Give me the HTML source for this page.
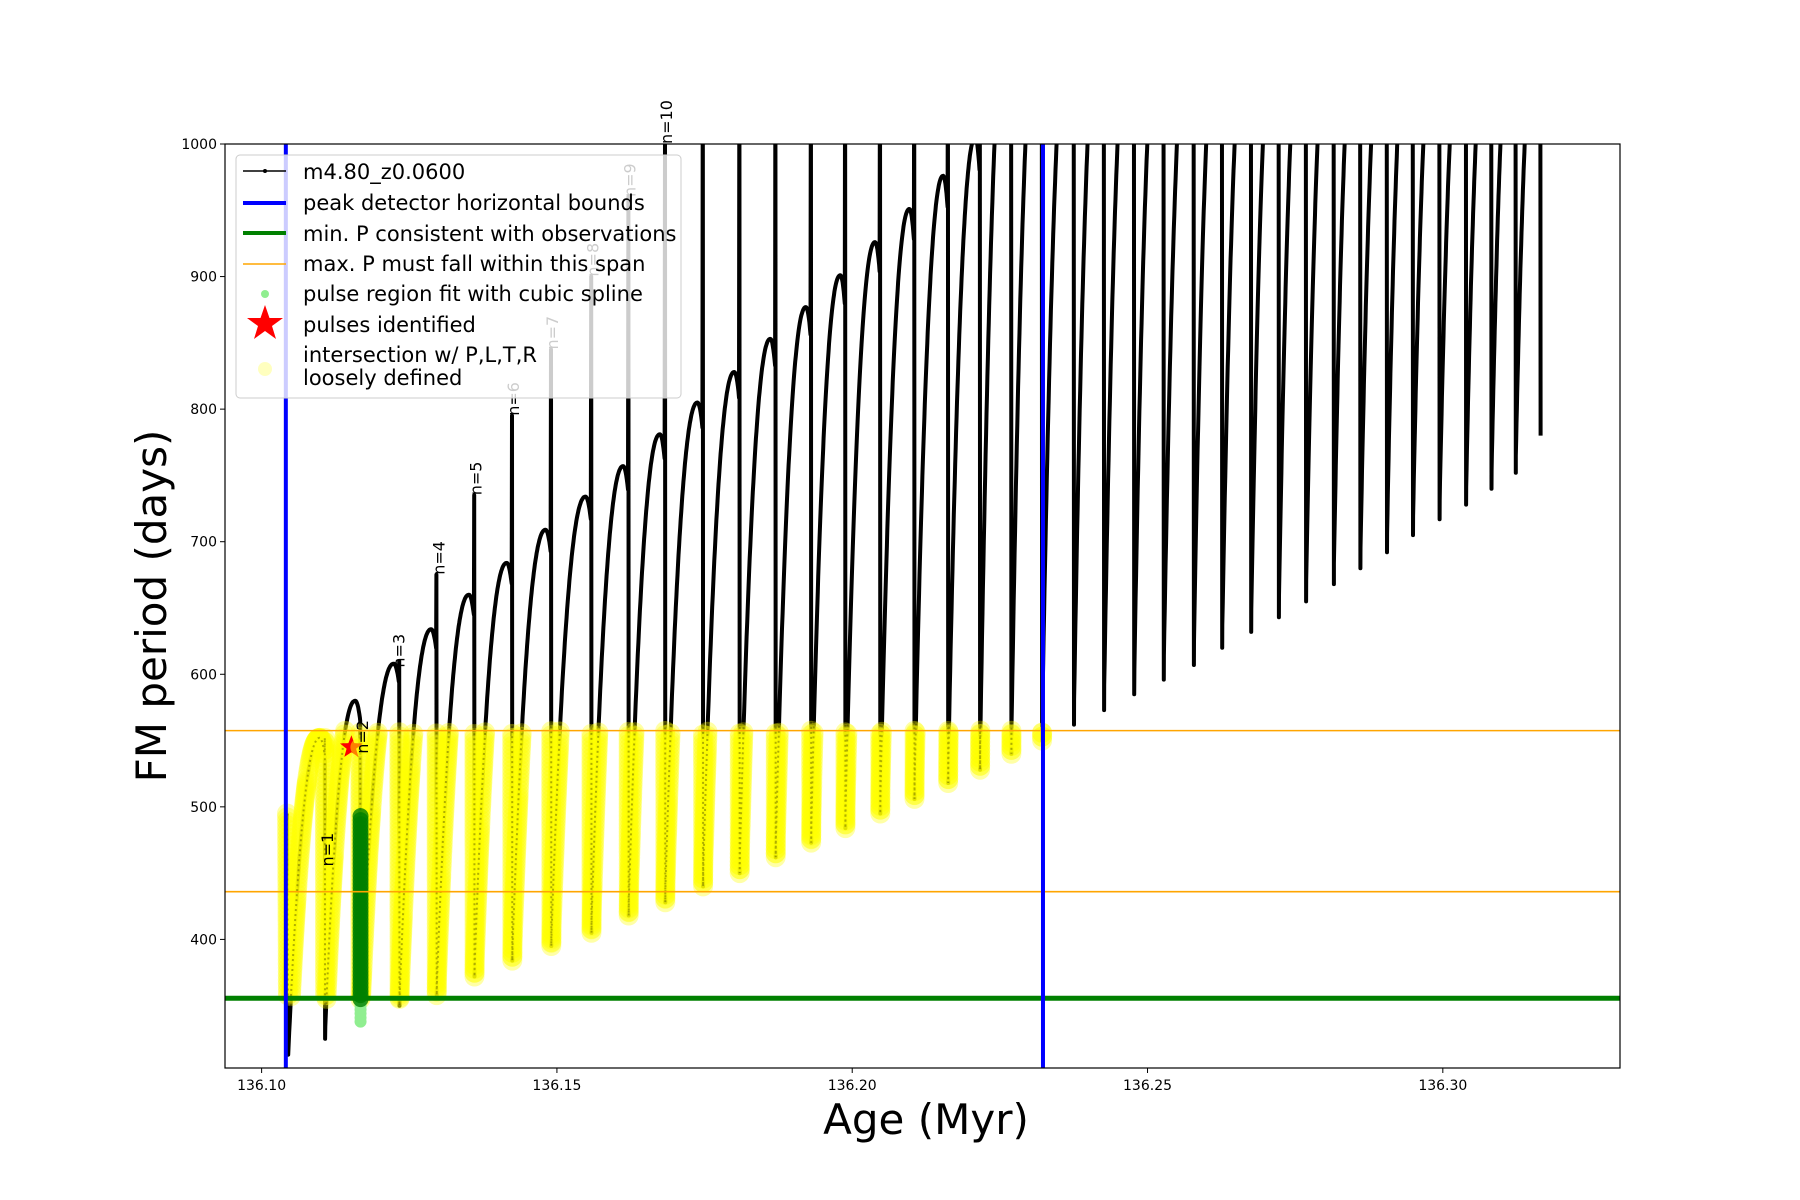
<!DOCTYPE html>
<html><head><meta charset="utf-8"><style>
html,body{margin:0;padding:0;background:#fff;}
svg{display:block;font-family:"DejaVu Sans","Liberation Sans",sans-serif;}
</style></head><body>
<svg id="chart" width="1800" height="1200" viewBox="0 0 1800 1200" xmlns="http://www.w3.org/2000/svg">
<rect x="0" y="0" width="1800" height="1200" fill="#fff"/>
<defs><clipPath id="plotclip"><rect x="225" y="144" width="1395" height="924"/></clipPath></defs>
<g id="plot" clip-path="url(#plotclip)"></g>
<g id="overlay"></g>
</svg>
<script>
// ---- data ----
const dipAges = [136.1045,136.1107,136.1167,136.1233,136.1296,136.1360,136.1424,136.1490,136.1558,136.1621,136.1683,136.1747,136.1809,136.1870,136.1930,136.1988,136.2047,136.2105,136.2162,136.2216,136.2269,136.2321,136.2375,136.2426,136.2477,136.2527,136.2578,136.2626,136.2675,136.2722,136.2768,136.2815,136.2860,136.2905,136.2949,136.2994,136.3039,136.3082,136.3123,136.3165];
const dipMins = [313,325,340,350,358,372,384,395,405,418,428,440,450,462,473,484,495,506,518,528,540,550,562,573,585,596,607,620,632,643,655,668,680,692,705,717,728,740,752,780];
const humpMax = [495,552,580,608,634,660,684,709,734,757,781,805,828,853,877,901,926,951,976,1005,1100,1100,1100,1100,1100,1100,1100,1100,1100,1100,1100,1100,1100,1100,1100,1100,1100,1100,1100,1100];
const spikeTop = [495,552,565,610,675,735,795,845,900,960,1005,1100,1100,1100,1100,1100,1100,1100,1100,1100,1100,1100,1100,1100,1100,1100,1100,1100,1100,1100,1100,1100,1100,1100,1100,1100,1100,1100,1100,1100];
const nLabels = ["n=1","n=2","n=3","n=4","n=5","n=6","n=7","n=8","n=9","n=10"];
const nLabelAges = [136.1121,136.1180,136.1242,136.1310,136.1372,136.1436,136.1502,136.1570,136.1633,136.1695];
const nLabelVals = [455,540,605,675,735,795,845,900,960,1000];
const xTicks = [136.10,136.15,136.20,136.25,136.30];
const yTicks = [400,500,600,700,800,900,1000];
const boundAges = [136.1041,136.2323];
const minP = 355.6;
const maxSpan = [436,557.5];
const greenPulseAge = 136.1167;
const greenRange = [355,495];
const lightGreenRange = [338,355];
const starPoint = [136.1152,545];
const yellowCutoffAge = 136.2325;

// ---- axes ----
const X0=225,X1=1620,Y0=144,Y1=1068;
const xmin=136.0938,xmax=136.3300,ymin=303.0,ymax=1000;
const sx=a=>X0+(a-xmin)/(xmax-xmin)*(X1-X0);
const sy=v=>Y1-(v-ymin)/(ymax-ymin)*(Y1-Y0);
const NS="http://www.w3.org/2000/svg";
const svg=document.getElementById('chart');
const plot=document.getElementById('plot');
function mk(tag,attrs,parent){const e=document.createElementNS(NS,tag);for(const k in attrs)e.setAttribute(k,attrs[k]);(parent||svg).appendChild(e);return e;}

const pts=[];
pts.push([dipAges[0]-0.0002,spikeTop[0]]);
pts.push([dipAges[0],dipMins[0]]);
for(let i=0;i<dipAges.length-1;i++){
  const a0=dipAges[i],a1=dipAges[i+1],m=dipMins[i],h=humpMax[i+1];
  const L=a1-a0, N=60;
  for(let k=1;k<=N;k++){
    const s=k/N;const t=a0+s*0.86*L;
    const v=m+(h-m)*(1-Math.pow(1-s,2.2));
    pts.push([t,v]);
  }
  for(let k=1;k<=8;k++){
    const u=k/8;const t=a0+(0.86+0.13*u)*L;
    pts.push([t,h-(h-m)*0.05*u*u]);
  }
  pts.push([a1,spikeTop[i+1]]);
  pts.push([a1+0.00005,dipMins[i+1]]);
}
let d='';pts.forEach((p,i)=>{d+=(i?'L':'M')+sx(p[0]).toFixed(1)+','+sy(p[1]).toFixed(1);});
const line=mk('path',{d:d,fill:'none',stroke:'#000','stroke-width':4,'stroke-linejoin':'round'},plot);



const yg=mk('g',{fill:'#ffff00','fill-opacity':0.35,stroke:'none'},plot);


for(let i=1;i<pts.length;i++){
  const [a0,v0]=pts[i-1],[a1,v1]=pts[i];
  if(a1>yellowCutoffAge)break;
  const n=Math.max(1,Math.ceil(Math.hypot(sx(a1)-sx(a0),sy(v1)-sy(v0))/4));
  for(let k=0;k<n;k++){
    const t=a0+(a1-a0)*k/n,v=v0+(v1-v0)*k/n;
    if(v>=355&&v<=maxSpan[1]){mk('circle',{cx:sx(t).toFixed(1),cy:sy(v).toFixed(1),r:10},yg);}
  }
}
mk('path',{d:d,fill:'none',stroke:'#000','stroke-width':2,'stroke-opacity':0.3,'stroke-dasharray':'2 3'},plot);

const gg=mk('g',{},plot);


for(let v=lightGreenRange[0];v<=lightGreenRange[1];v+=3){mk('circle',{cx:sx(greenPulseAge+0.00005),cy:sy(v),r:6,fill:'#90ee90'},gg);}
for(let v=greenRange[0];v<=greenRange[1];v+=3){mk('circle',{cx:sx(greenPulseAge+0.00005),cy:sy(v),r:8,fill:'#008000','fill-opacity':0.8},gg);}

function starPath(cx,cy,R,r){let p='';for(let k=0;k<10;k++){const ang=-Math.PI/2+k*Math.PI/5;const rr=k%2?r:R;p+=(k?'L':'M')+(cx+rr*Math.cos(ang)).toFixed(1)+','+(cy+rr*Math.sin(ang)).toFixed(1);}return p+'Z';}
const st=mk('path',{d:starPath(sx(starPoint[0]),sy(starPoint[1]),12,5),fill:'#ff0000'},plot);


// yellow over star partially
mk('circle',{cx:sx(starPoint[0])+8,cy:sy(starPoint[1]),r:9,fill:'#ffff00','fill-opacity':0.5},plot);

maxSpan.forEach(v=>{const l=mk('line',{x1:X0,x2:X1,y1:sy(v),y2:sy(v),stroke:'#ffa500','stroke-width':1.6},plot);

});
const gl=mk('line',{x1:X0,x2:X1,y1:sy(minP),y2:sy(minP),stroke:'#008000','stroke-width':5},plot);


boundAges.forEach(a=>{const l=mk('line',{x1:sx(a),x2:sx(a),y1:Y0,y2:Y1,stroke:'#0000ff','stroke-width':4},plot);

});

nLabels.forEach((t,i)=>{const x=sx(nLabelAges[i]),y=sy(nLabelVals[i]);
const e=mk('text',{x:0,y:0,transform:`translate(${x.toFixed(1)},${y.toFixed(1)}) rotate(-90)`,'font-size':16,fill:'#000'});
e.textContent=t;

});

const fr=mk('rect',{x:X0,y:Y0,width:X1-X0,height:Y1-Y0,fill:'none',stroke:'#000','stroke-width':1.2});


xTicks.forEach(v=>{const x=sx(v);mk('line',{x1:x,x2:x,y1:Y1,y2:Y1+5,stroke:'#000'});
const e=mk('text',{x:x,y:Y1+22,'font-size':14,'text-anchor':'middle'});e.textContent=v.toFixed(2);

});
yTicks.forEach(v=>{const y=sy(v);mk('line',{x1:X0-5,x2:X0,y1:y,y2:y,stroke:'#000'});
const e=mk('text',{x:X0-8,y:y+5,'font-size':14,'text-anchor':'end'});e.textContent=v;

});
</script>
<svg style="position:absolute;left:0;top:0" width="1800" height="1200" xmlns="http://www.w3.org/2000/svg">
<text x="926" y="1134" font-size="42" text-anchor="middle" font-family="DejaVu Sans, Liberation Sans, sans-serif">Age (Myr)</text>
<text transform="translate(166,606) rotate(-90)" font-size="42" text-anchor="middle" font-family="DejaVu Sans, Liberation Sans, sans-serif">FM period (days)</text>
<g font-family="DejaVu Sans, Liberation Sans, sans-serif" font-size="21">
<rect x="236" y="155" width="445" height="243" rx="4" fill="#fff" fill-opacity="0.8" stroke="#ccc"/>
<g><line x1="243" x2="286" y1="171" y2="171" stroke="#000" stroke-width="1.6"/><circle cx="265" cy="171" r="2"/><text x="303" y="179">m4.80_z0.0600</text></g>
<g><line x1="243" x2="286" y1="203" y2="203" stroke="#00f" stroke-width="4"/><text x="303" y="210">peak detector horizontal bounds</text></g>
<g><line x1="243" x2="286" y1="233" y2="233" stroke="#008000" stroke-width="4"/><text x="303" y="241">min. P consistent with observations</text></g>
<g><line x1="243" x2="286" y1="264" y2="264" stroke="#ffa500" stroke-width="1.6"/><text x="303" y="271">max. P must fall within this span</text></g>
<g><circle cx="265" cy="294" r="4" fill="#90ee90"/><text x="303" y="301">pulse region fit with cubic spline</text></g>
<g><path d="M265,305 L269.5,318 L283,318 L272,326 L276,339 L265,331 L254,339 L258,326 L247,318 L260.5,318 Z" fill="#f00"/><text x="303" y="332">pulses identified</text></g>
<g><circle cx="265" cy="369" r="7" fill="#ffff00" fill-opacity="0.25"/><text x="303" y="362">intersection w/ P,L,T,R</text><text x="303" y="385">loosely defined</text></g>
</g>
</svg>
</body></html>
